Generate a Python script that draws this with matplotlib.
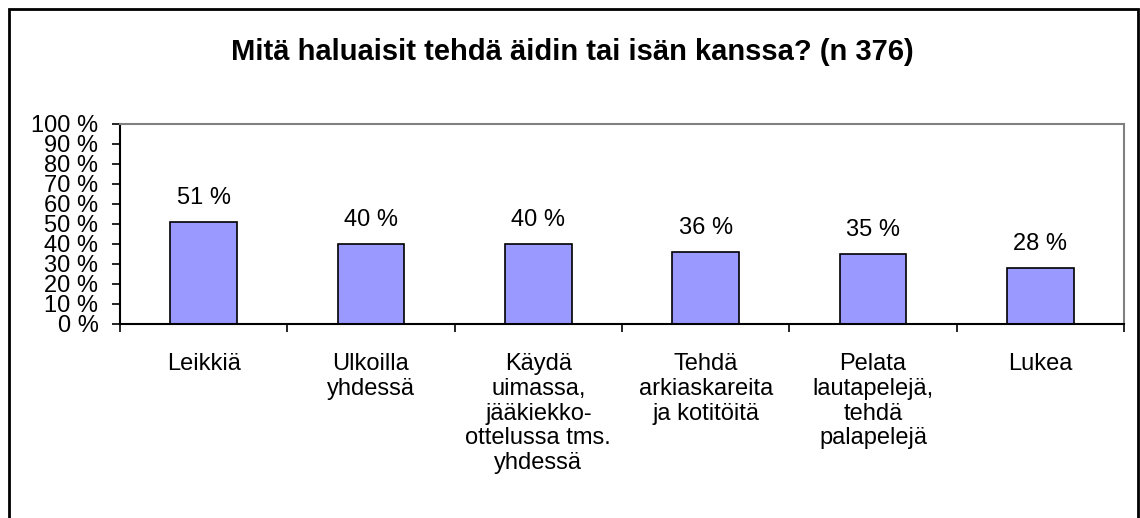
import numpy as np
import matplotlib.pyplot as plt

plt.rcParams['font.family'] = ['Liberation Sans', 'DejaVu Sans']

# data
categories = ['Leikkiä', 'Ulkoilla\nyhdessä', 'Käydä\nuimassa,\njääkiekko-\nottelussa tms.\nyhdessä',
              'Tehdä\narkiaskareita\nja kotitöitä', 'Pelata\nlautapelejä,\ntehdä\npalapelejä', 'Lukea']
values = [51, 40, 40, 36, 35, 28]
yticks = list(range(0, 101, 10))
title = 'Mitä haluaisit tehdä äidin tai isän kanssa? (n 376)'

W, H = 1140, 518
fig = plt.figure(figsize=(W / 100, H / 100), dpi=100)

# outer frame
fig.patches.append(plt.Rectangle((9 / W, -0.01), 1129 / W, 1 - 9 / H + 0.01, transform=fig.transFigure,
                                 fill=False, edgecolor='black', linewidth=2))

ax = fig.add_axes([120 / W, (H - 324) / H, 1004 / W, 200 / H])
x = np.arange(len(values))
bars = ax.bar(x, values, width=0.4, color='#9999FF', edgecolor='black', linewidth=1.2)

for xi, v in zip(x, values):
    ax.annotate(f'{v} %', (xi, v), xytext=(0, 9), textcoords='offset points',
                ha='center', va='bottom', fontsize=17)

ax.set_xlim(-0.5, len(values) - 0.5)
ax.set_ylim(0, 100)
ax.set_yticks(yticks)
ax.set_yticklabels([f'{t} %' for t in yticks], fontsize=17)
ax.tick_params(axis='y', direction='out', length=6, width=1.2, pad=9.5)

ax.set_xticks(x)
ax.set_xticklabels(categories, fontsize=17, linespacing=1.16, va='top')
ax.tick_params(axis='x', length=0, pad=21)
ax.set_xticks(np.arange(-0.5, len(values)), minor=True)
ax.tick_params(axis='x', which='minor', direction='out', length=6, width=1.2)

for s in ['top', 'right']:
    ax.spines[s].set_color('#808080')
    ax.spines[s].set_linewidth(1.5)
for s in ['left', 'bottom']:
    ax.spines[s].set_color('black')
    ax.spines[s].set_linewidth(1.5)

fig.text(572 / W, 1 - 52 / H, title, ha='center', va='center', fontsize=21, fontweight='bold')

fig.savefig('out.png', dpi=100)
